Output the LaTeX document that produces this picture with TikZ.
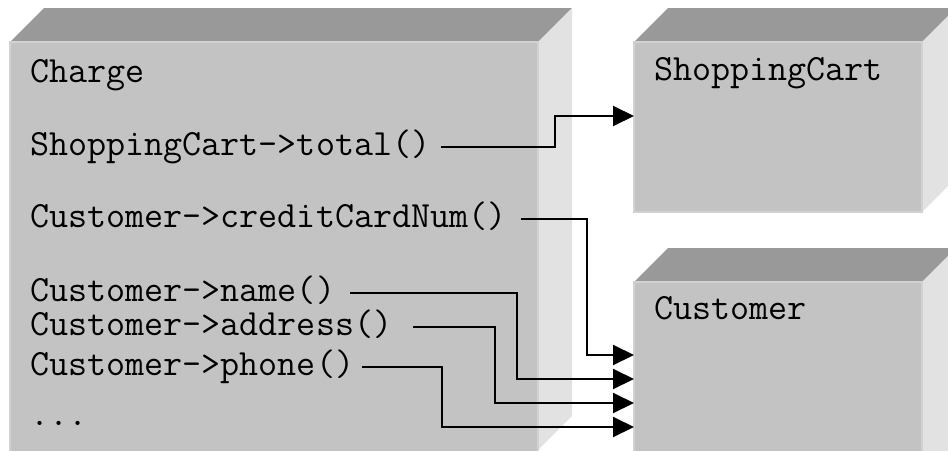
\documentclass[tikz,border=0pt]{standalone}
\usepackage{fontspec}
\usetikzlibrary{arrows.meta}
\definecolor{frontc}{HTML}{C3C3C3}
\definecolor{topc}{HTML}{999999}
\definecolor{sidec}{HTML}{E2E2E2}
\definecolor{edgec}{HTML}{D2D2D2}
\tikzset{
  front/.style={fill=frontc, draw=edgec, line width=1.5pt},
  topface/.style={fill=topc},
  sideface/.style={fill=sidec},
  code/.style={anchor=base west, inner sep=0pt, font=\ttfamily\fontsize{37}{42}\selectfont, text height=22pt, text depth=6pt},
  conn/.style={draw=black, line width=2pt, -{Triangle[length=21pt,width=20pt]}}
}
\begin{document}
\begin{tikzpicture}[x=1pt,y=-1pt]
\useasboundingbox (0,0) rectangle (948,450);
\clip (0,0) rectangle (948,450);
% Charge box
\fill[topface] (10,42) -- (44,8) -- (572,8) -- (538,42) -- cycle;
\fill[sideface] (538,42) -- (572,8) -- (572,416) -- (538,450) -- cycle;
\draw[front] (10,42) rectangle (538,470);
% ShoppingCart box
\fill[topface] (634,42) -- (668,8) -- (956,8) -- (922,42) -- cycle;
\fill[sideface] (922,42) -- (956,8) -- (956,178) -- (922,212) -- cycle;
\draw[front] (634,42) rectangle (922,212);
% Customer box
\fill[topface] (634,282) -- (668,248) -- (956,248) -- (922,282) -- cycle;
\fill[sideface] (922,282) -- (956,248) -- (956,470) -- (922,470) -- cycle;
\draw[front] (634,282) rectangle (922,480);
% texts
\node[code] (charge) at (30,82) {Charge};
\node[code] (tot) at (30,155) {ShoppingCart->total()};
\node[code] (ccn) at (30,227) {Customer->creditCardNum()};
\node[code] (nam) at (30,301) {Customer->name()};
\node[code] (adr) at (30,335) {Customer->address()};
\node[code] (pho) at (30,375) {Customer->phone()};
\node[code] (dots) at (30,425) {...};
\node[code] (cart) at (654,80) {ShoppingCart};
\node[code] (cust) at (654,319) {Customer};
% connector start columns
\coordinate (s0) at (441,0);
\coordinate (s1) at (521,0);
\coordinate (s2) at (350,0);
\coordinate (s3) at (413,0);
\coordinate (s4) at (362,0);
% connector targets and bends
\coordinate (cartin) at (634,116);
\coordinate (jt) at (555,116);
\coordinate (in1) at (634,355);
\coordinate (j1) at (587,355);
\coordinate (in2) at (634,379);
\coordinate (j2) at (517,379);
\coordinate (in3) at (634,403);
\coordinate (j3) at (495,403);
\coordinate (in4) at (634,427);
\coordinate (j4) at (442,427);
% connectors
\draw[conn] (tot.east -| s0) -| (jt) -- (cartin);
\draw[conn] (ccn.east -| s1) -| (j1) -- (in1);
\draw[conn] (nam.east -| s2) -| (j2) -- (in2);
\draw[conn] (adr.east -| s3) -| (j3) -- (in3);
\draw[conn] (pho.east -| s4) -| (j4) -- (in4);
\end{tikzpicture}
\end{document}
